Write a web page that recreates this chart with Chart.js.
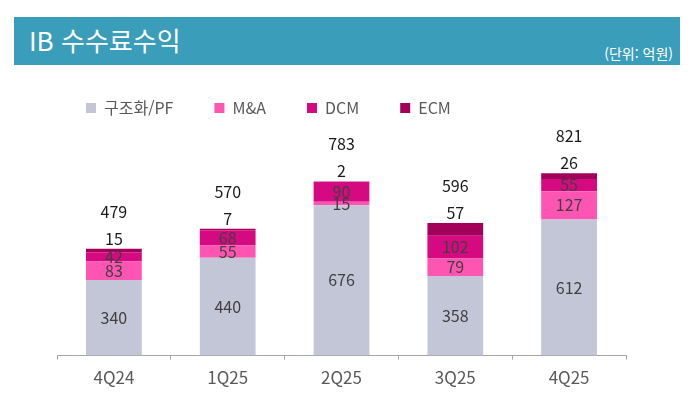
<!DOCTYPE html>
<html lang="ko">
<head>
    <meta charset="utf-8" />
    <title>IB 수수료수익</title>
    <script src="https://cdn.jsdelivr.net/npm/chart.js@4.4.1/dist/chart.umd.min.js"></script>
    <style>
        body { margin: 0; background: #fff; font-family: "Noto Sans CJK KR", sans-serif; }
        #wrap { position: absolute; left: 0; top: 0; width: 691px; height: 396px; }
        #titleBar {
            position: absolute; left: 14px; top: 17px; width: 666px; height: 48px;
            background: #3a9db9; color: #fff; z-index: 2;
        }
        #titleBar .main { position: absolute; left: 15px; top: 6px; font-size: 26px; line-height: 34px; }
        #titleBar .unit { position: absolute; right: 7px; top: 36px; font-size: 14px; line-height: 18px; margin-top: -9px; }
    </style>
</head>
<body>
    <div id="titleBar">
        <span class="main">IB 수수료수익</span>
        <span class="unit">(단위: 억원)</span>
    </div>
    <div id="wrap">
        <canvas id="ibChart" width="691" height="396"></canvas>
    </div>

    <script type="text/javascript">
        const quarters = ['4Q24', '1Q25', '2Q25', '3Q25', '4Q25'];
        const pfValues = [340, 440, 676, 358, 612];
        const maValues = [83, 55, 15, 79, 127];
        const dcmValues = [42, 68, 90, 102, 55];
        const ecmValues = [15, 7, 2, 57, 26];
        const totals = [479, 570, 783, 596, 821];

        const fontFamily = '"Noto Sans CJK KR", sans-serif';

        // numbers inside the bars, ECM above the bar, totals on top
        const barLabels = {
            id: 'barLabels',
            afterDatasetsDraw(chart) {
                const ctx = chart.ctx;
                ctx.save();
                ctx.font = '16px ' + fontFamily;
                ctx.textAlign = 'center';
                ctx.textBaseline = 'middle';
                chart.data.datasets.forEach((ds, i) => {
                    const meta = chart.getDatasetMeta(i);
                    meta.data.forEach((bar, j) => {
                        const p = bar.getProps(['x', 'y', 'base'], true);
                        if (i < 3) {
                            ctx.fillStyle = '#404040';
                            ctx.fillText(ds.data[j], p.x, (p.y + p.base) / 2);
                        } else {
                            ctx.fillStyle = '#1a1a1a';
                            ctx.fillText(ds.data[j], p.x, p.y - 10);
                            ctx.fillText(totals[j], p.x, p.y - 37);
                        }
                    });
                });
                ctx.restore();
            }
        };

        const chartContext = document.getElementById('ibChart').getContext('2d');
        new Chart(chartContext, {
            type: 'bar',
            data: {
                labels: quarters,
                datasets: [
                    { label: '구조화/PF', data: pfValues, backgroundColor: '#c3c6d7' },
                    { label: 'M&A', data: maValues, backgroundColor: '#ff55b2' },
                    { label: 'DCM', data: dcmValues, backgroundColor: '#d50a80' },
                    { label: 'ECM', data: ecmValues, backgroundColor: '#a3005c' }
                ]
            },
            options: {
                responsive: false,
                animation: false,
                layout: { padding: { left: 45, right: 65, top: 59, bottom: 0 } },
                datasets: { bar: { categoryPercentage: 1, barPercentage: 0.49 } },
                plugins: {
                    tooltip: { enabled: false },
                    legend: {
                        position: 'top',
                        align: 'start',
                        labels: {
                            boxWidth: 10,
                            boxHeight: 10,
                            padding: 41,
                            color: '#595959',
                            font: { family: fontFamily, size: 16 }
                        }
                    }
                },
                scales: {
                    x: {
                        stacked: true,
                        grid: { drawOnChartArea: false, drawTicks: true, tickLength: 4, color: '#a6a6a6' },
                        border: { color: '#a6a6a6' },
                        ticks: { color: '#595959', padding: 8, font: { family: fontFamily, size: 17 } }
                    },
                    y: {
                        stacked: true,
                        min: 0,
                        max: 1032,
                        grid: { display: false },
                        border: { display: false },
                        ticks: { display: false },
                        afterFit(scale) { scale.width = 12; }
                    }
                }
            },
            plugins: [barLabels]
        });
    </script>
</body>
</html>
